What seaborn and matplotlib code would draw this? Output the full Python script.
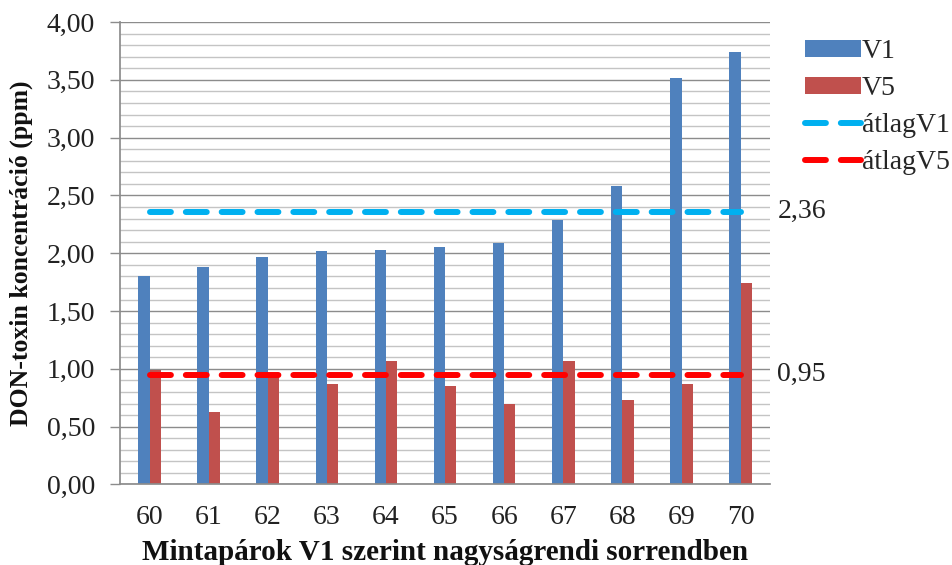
import numpy as np
import pandas as pd
import matplotlib
matplotlib.use("Agg")
import matplotlib.pyplot as plt
from matplotlib.patches import Patch
from matplotlib.ticker import MultipleLocator, FuncFormatter
import seaborn as sns

# Data
categories = ["60", "61", "62", "63", "64", "65", "66", "67", "68", "69", "70"]
v1_values = [1.80, 1.88, 1.97, 2.02, 2.03, 2.05, 2.09, 2.29, 2.58, 3.52, 3.74]
v5_values = [0.99, 0.63, 0.95, 0.87, 1.07, 0.85, 0.70, 1.07, 0.73, 0.87, 1.74]
series_names = ["V1", "V5"]
mean_names = ["átlagV1", "átlagV5"]
mean_v1 = 2.36
mean_v5 = 0.95

bar_colors = ["#4F81BD", "#C0504D"]
mean_colors = ["#00B0F0", "#FF0000"]

df = pd.DataFrame({
    "minta": categories * 2,
    "ertek": v1_values + v5_values,
    "sorozat": [series_names[0]] * len(categories) + [series_names[1]] * len(categories),
})

sns.set_theme(style="white")
plt.rcParams["font.family"] = ["Liberation Serif", "DejaVu Serif"]

fig = plt.figure(figsize=(9.52, 5.65), dpi=100)
ax = fig.add_axes([0.126, 0.1425, 0.683, 0.8185])

ax.set_axisbelow(True)
sns.barplot(data=df, x="minta", y="ertek", hue="sorozat", order=categories,
            hue_order=series_names, palette=bar_colors, saturation=1,
            width=0.38, legend=False, ax=ax, linewidth=0)

# mean lines across the categories
positions = np.arange(len(categories))
mean_lines = []
for mean, name, color in zip([mean_v1, mean_v5], mean_names, mean_colors):
    sns.lineplot(x=positions, y=[mean] * len(categories), color=color,
                 linewidth=4.3, label=name, ax=ax, legend=False)
    line = ax.lines[-1]
    line.set_dashes((3.5, 2.5))
    line.set_dash_capstyle("round")
    mean_lines.append(line)
    ax.text(1.011, mean, f"{mean:.2f}".replace(".", ","), transform=ax.get_yaxis_transform(),
            ha="left", va="center", fontsize=20, color="#222222")

ax.set_xlim(-0.5, len(categories) - 0.5)
ax.set_ylim(0, 4.0)
ax.yaxis.set_major_locator(MultipleLocator(0.5))
ax.yaxis.set_minor_locator(MultipleLocator(0.1))
ax.yaxis.set_major_formatter(FuncFormatter(lambda v, _: f"{v:.2f}".replace(".", ",")))
ax.grid(which="major", axis="y", color="#8c8c8c", linewidth=1)
ax.grid(which="minor", axis="y", color="#c4c4c4", linewidth=1)
ax.grid(axis="x", visible=False)

ax.tick_params(axis="y", which="major", length=7, width=1, color="#8c8c8c",
               direction="out", pad=11, labelsize=20, labelcolor="#222222", left=True)
ax.tick_params(axis="y", which="minor", length=0)
ax.tick_params(axis="x", length=0, pad=15, labelsize=20, labelcolor="#222222")

for side in ["top", "right"]:
    ax.spines[side].set_visible(False)
ax.spines["left"].set_color("#8c8c8c")
ax.spines["bottom"].set_color("#8c8c8c")

ax.set_xlabel("Mintapárok V1 szerint nagyságrendi sorrendben", fontsize=21,
              fontweight="bold", color="#111111", va="center")
ax.xaxis.set_label_coords(0.5, -0.148)
ax.set_ylabel("DON-toxin koncentráció (ppm)", fontsize=18.5, fontweight="bold",
              color="#111111", va="center")
ax.yaxis.set_label_coords(-0.152, 0.5)

handles = [Patch(facecolor=c, edgecolor="none") for c in bar_colors] + mean_lines
labels = series_names + mean_names
fig.legend(handles, labels, loc="upper left", bbox_to_anchor=(0.834, 0.95),
           frameon=False, fontsize=20, handlelength=2.0, handleheight=0.55,
           handletextpad=0.05, labelspacing=0.43, borderaxespad=0)

fig.savefig("out.png", dpi=100)
